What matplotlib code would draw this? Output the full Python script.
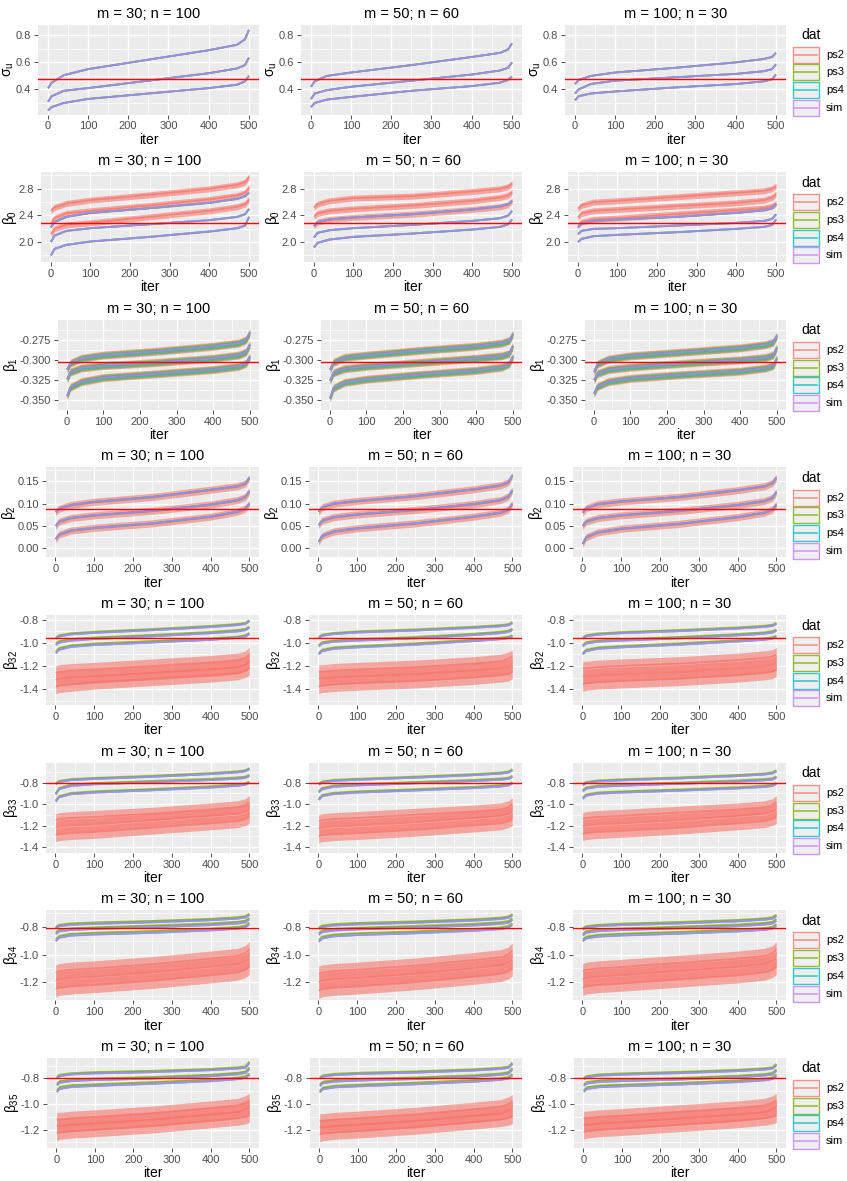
import matplotlib.pyplot as plt
from matplotlib.patches import Rectangle
from matplotlib.lines import Line2D
from matplotlib.ticker import FormatStrFormatter

plt.rcParams['font.family'] = ['Liberation Sans', 'DejaVu Sans']
plt.rcParams['mathtext.fontset'] = 'custom'
plt.rcParams['mathtext.rm'] = 'Liberation Sans'
plt.rcParams['mathtext.it'] = 'Liberation Sans'
plt.rcParams['mathtext.bf'] = 'Liberation Sans:bold'

# iterations at which values were read off the chart (sorted estimates)
iters = [1, 10, 40, 100, 250, 400, 470, 490, 500]
designs = ['m = 30; n = 100', 'm = 50; n = 60', 'm = 100; n = 30']
series = ['ps2', 'ps3', 'ps4', 'sim']
colors = {'ps2': '#F8766D', 'ps3': '#7CAE00', 'ps4': '#00BFC4', 'sim': '#C77CFF'}

# each array: [upper, middle, lower] curve
# ---- sigma_u
sigu_m30 = [[0.41, 0.45, 0.505, 0.55, 0.62, 0.69, 0.73, 0.77, 0.84],
            [0.31, 0.35, 0.39, 0.41, 0.465, 0.52, 0.555, 0.58, 0.635],
            [0.245, 0.27, 0.30, 0.33, 0.37, 0.41, 0.435, 0.46, 0.50]]
sigu_m50 = [[0.42, 0.46, 0.50, 0.525, 0.58, 0.64, 0.67, 0.695, 0.74],
            [0.33, 0.37, 0.395, 0.42, 0.465, 0.51, 0.54, 0.56, 0.60],
            [0.27, 0.30, 0.325, 0.345, 0.39, 0.425, 0.45, 0.47, 0.495]]
sigu_m100 = [[0.44, 0.47, 0.50, 0.525, 0.56, 0.60, 0.625, 0.64, 0.67],
             [0.37, 0.40, 0.44, 0.465, 0.49, 0.515, 0.535, 0.55, 0.585],
             [0.32, 0.35, 0.37, 0.385, 0.415, 0.44, 0.46, 0.475, 0.51]]

# ---- beta_0
b0_m30_ps2 = [[2.47, 2.52, 2.58, 2.63, 2.71, 2.80, 2.86, 2.90, 2.98],
              [2.28, 2.36, 2.43, 2.47, 2.55, 2.64, 2.70, 2.74, 2.82],
              [2.12, 2.20, 2.26, 2.29, 2.38, 2.47, 2.53, 2.57, 2.64]]
b0_m30_sim = [[2.22, 2.30, 2.38, 2.44, 2.51, 2.59, 2.65, 2.69, 2.74],
              [2.00, 2.10, 2.17, 2.21, 2.27, 2.33, 2.38, 2.42, 2.50],
              [1.80, 1.90, 1.96, 2.01, 2.08, 2.16, 2.21, 2.25, 2.38]]
b0_m50_ps2 = [[2.52, 2.57, 2.62, 2.66, 2.69, 2.76, 2.80, 2.83, 2.88],
              [2.38, 2.43, 2.47, 2.50, 2.55, 2.62, 2.67, 2.70, 2.75],
              [2.24, 2.30, 2.34, 2.37, 2.42, 2.49, 2.53, 2.56, 2.62]]
b0_m50_sim = [[2.24, 2.30, 2.34, 2.37, 2.42, 2.49, 2.54, 2.57, 2.62],
              [2.07, 2.14, 2.18, 2.21, 2.26, 2.32, 2.36, 2.40, 2.47],
              [1.92, 1.99, 2.04, 2.08, 2.13, 2.19, 2.23, 2.27, 2.34]]
b0_m100_ps2 = [[2.50, 2.55, 2.60, 2.62, 2.68, 2.74, 2.77, 2.80, 2.84],
               [2.37, 2.43, 2.47, 2.49, 2.54, 2.59, 2.63, 2.67, 2.72],
               [2.25, 2.30, 2.34, 2.36, 2.42, 2.48, 2.51, 2.54, 2.58]]
b0_m100_sim = [[2.22, 2.28, 2.32, 2.34, 2.38, 2.44, 2.48, 2.51, 2.57],
               [2.12, 2.17, 2.20, 2.21, 2.25, 2.29, 2.32, 2.35, 2.42],
               [2.00, 2.05, 2.09, 2.11, 2.15, 2.20, 2.23, 2.26, 2.34]]

# ---- beta_1
b1_m30 = [[-0.312, -0.304, -0.298, -0.294, -0.289, -0.283, -0.279, -0.275, -0.266],
          [-0.324, -0.315, -0.310, -0.307, -0.303, -0.298, -0.294, -0.290, -0.281],
          [-0.345, -0.334, -0.327, -0.322, -0.317, -0.312, -0.308, -0.304, -0.296]]
b1_m50 = [[-0.312, -0.303, -0.297, -0.294, -0.288, -0.283, -0.279, -0.276, -0.268],
          [-0.326, -0.316, -0.311, -0.308, -0.303, -0.298, -0.295, -0.292, -0.283],
          [-0.348, -0.335, -0.328, -0.324, -0.318, -0.313, -0.309, -0.305, -0.296]]
b1_m100 = [[-0.315, -0.305, -0.299, -0.295, -0.290, -0.285, -0.281, -0.278, -0.270],
           [-0.325, -0.317, -0.312, -0.309, -0.304, -0.300, -0.297, -0.294, -0.285],
           [-0.342, -0.333, -0.327, -0.323, -0.318, -0.314, -0.310, -0.307, -0.298]]

# ---- beta_2
b2_m30 = [[0.081, 0.089, 0.097, 0.104, 0.115, 0.131, 0.139, 0.145, 0.158],
          [0.050, 0.060, 0.068, 0.074, 0.084, 0.098, 0.108, 0.115, 0.128],
          [0.021, 0.031, 0.040, 0.046, 0.056, 0.071, 0.082, 0.089, 0.100]]
b2_m50 = [[0.082, 0.092, 0.100, 0.106, 0.117, 0.132, 0.141, 0.148, 0.163],
          [0.052, 0.062, 0.070, 0.076, 0.086, 0.099, 0.108, 0.116, 0.130],
          [0.015, 0.028, 0.038, 0.045, 0.056, 0.071, 0.080, 0.087, 0.100]]
b2_m100 = [[0.080, 0.090, 0.099, 0.105, 0.115, 0.130, 0.139, 0.146, 0.158],
           [0.050, 0.060, 0.068, 0.074, 0.084, 0.097, 0.106, 0.113, 0.126],
           [0.010, 0.025, 0.036, 0.044, 0.055, 0.070, 0.080, 0.087, 0.098]]

# ---- beta_32
b32_m30_ps2 = [[-1.26, -1.25, -1.24, -1.23, -1.20, -1.17, -1.15, -1.13, -1.10],
               [-1.32, -1.31, -1.30, -1.29, -1.26, -1.23, -1.21, -1.19, -1.16],
               [-1.38, -1.37, -1.36, -1.34, -1.31, -1.28, -1.26, -1.24, -1.22]]
b32_m30_ps3 = [[-0.955, -0.935, -0.918, -0.905, -0.882, -0.855, -0.838, -0.828, -0.805],
               [-1.005, -0.985, -0.968, -0.955, -0.932, -0.907, -0.890, -0.880, -0.860],
               [-1.075, -1.045, -1.022, -1.007, -0.985, -0.963, -0.947, -0.935, -0.915]]
b32_m30_sim = [[-0.965, -0.945, -0.928, -0.915, -0.892, -0.865, -0.848, -0.838, -0.815],
               [-1.020, -1.000, -0.982, -0.968, -0.945, -0.918, -0.902, -0.892, -0.870],
               [-1.090, -1.060, -1.036, -1.020, -0.998, -0.975, -0.958, -0.946, -0.925]]
b32_m50_ps2 = [[-1.25, -1.25, -1.24, -1.23, -1.21, -1.18, -1.16, -1.14, -1.12],
               [-1.31, -1.31, -1.30, -1.29, -1.27, -1.24, -1.22, -1.21, -1.19],
               [-1.38, -1.37, -1.36, -1.35, -1.33, -1.30, -1.28, -1.27, -1.25]]
b32_m50_ps3 = [[-0.950, -0.930, -0.915, -0.902, -0.885, -0.862, -0.848, -0.840, -0.822],
               [-1.020, -0.995, -0.980, -0.970, -0.950, -0.922, -0.905, -0.895, -0.878],
               [-1.090, -1.060, -1.040, -1.028, -1.005, -0.974, -0.957, -0.948, -0.935]]
b32_m50_sim = [[-0.960, -0.940, -0.925, -0.912, -0.895, -0.872, -0.858, -0.850, -0.832],
               [-1.032, -1.007, -0.992, -0.982, -0.962, -0.934, -0.917, -0.907, -0.890],
               [-1.100, -1.072, -1.052, -1.040, -1.017, -0.986, -0.969, -0.960, -0.947]]
b32_m100_ps2 = [[-1.22, -1.22, -1.21, -1.20, -1.18, -1.15, -1.13, -1.12, -1.10],
                [-1.29, -1.29, -1.28, -1.27, -1.25, -1.22, -1.20, -1.19, -1.17],
                [-1.36, -1.35, -1.34, -1.33, -1.31, -1.28, -1.26, -1.25, -1.23]]
b32_m100_ps3 = [[-0.955, -0.935, -0.920, -0.908, -0.890, -0.868, -0.853, -0.845, -0.828],
                [-1.020, -0.995, -0.980, -0.970, -0.950, -0.925, -0.910, -0.900, -0.885],
                [-1.090, -1.060, -1.040, -1.028, -1.005, -0.978, -0.962, -0.953, -0.938]]
b32_m100_sim = [[-0.965, -0.945, -0.930, -0.918, -0.900, -0.878, -0.863, -0.855, -0.838],
                [-1.032, -1.007, -0.992, -0.982, -0.962, -0.937, -0.922, -0.912, -0.897],
                [-1.100, -1.072, -1.052, -1.040, -1.017, -0.990, -0.974, -0.965, -0.950]]

# ---- beta_33
b33_m30_ps2 = [[-1.15, -1.14, -1.13, -1.12, -1.09, -1.05, -1.03, -1.01, -0.98],
               [-1.22, -1.21, -1.20, -1.19, -1.15, -1.11, -1.09, -1.07, -1.05],
               [-1.29, -1.28, -1.27, -1.26, -1.22, -1.18, -1.16, -1.14, -1.12]]
b33_m30_ps3 = [[-0.805, -0.785, -0.768, -0.757, -0.737, -0.712, -0.695, -0.685, -0.665],
               [-0.900, -0.850, -0.820, -0.805, -0.785, -0.765, -0.752, -0.745, -0.727],
               [-0.965, -0.925, -0.897, -0.882, -0.860, -0.835, -0.818, -0.808, -0.790]]
b33_m30_sim = [[-0.815, -0.795, -0.778, -0.767, -0.747, -0.722, -0.705, -0.695, -0.675],
               [-0.912, -0.862, -0.832, -0.817, -0.797, -0.777, -0.764, -0.757, -0.739],
               [-0.977, -0.937, -0.909, -0.894, -0.872, -0.847, -0.830, -0.820, -0.802]]
b33_m50_ps2 = [[-1.16, -1.15, -1.14, -1.13, -1.10, -1.07, -1.05, -1.03, -1.00],
               [-1.23, -1.22, -1.21, -1.20, -1.17, -1.13, -1.11, -1.09, -1.07],
               [-1.30, -1.29, -1.28, -1.27, -1.24, -1.20, -1.18, -1.16, -1.14]]
b33_m50_ps3 = [[-0.810, -0.790, -0.775, -0.765, -0.745, -0.722, -0.707, -0.697, -0.675],
               [-0.880, -0.850, -0.828, -0.815, -0.795, -0.775, -0.762, -0.755, -0.737],
               [-0.950, -0.915, -0.895, -0.882, -0.862, -0.840, -0.825, -0.815, -0.797]]
b33_m50_sim = [[-0.820, -0.800, -0.785, -0.775, -0.755, -0.732, -0.717, -0.707, -0.687],
               [-0.892, -0.862, -0.840, -0.827, -0.807, -0.787, -0.774, -0.767, -0.749],
               [-0.962, -0.927, -0.907, -0.894, -0.874, -0.852, -0.837, -0.827, -0.809]]
b33_m100_ps2 = [[-1.14, -1.13, -1.12, -1.11, -1.08, -1.05, -1.03, -1.01, -0.98],
                [-1.21, -1.20, -1.19, -1.18, -1.15, -1.11, -1.09, -1.07, -1.05],
                [-1.28, -1.27, -1.26, -1.25, -1.22, -1.18, -1.16, -1.14, -1.12]]
b33_m100_ps3 = [[-0.815, -0.795, -0.780, -0.770, -0.752, -0.730, -0.715, -0.705, -0.685],
                [-0.870, -0.845, -0.828, -0.818, -0.800, -0.780, -0.767, -0.760, -0.742],
                [-0.940, -0.910, -0.892, -0.882, -0.864, -0.843, -0.829, -0.820, -0.802]]
b33_m100_sim = [[-0.825, -0.805, -0.790, -0.780, -0.762, -0.740, -0.725, -0.715, -0.697],
                [-0.882, -0.857, -0.840, -0.830, -0.812, -0.792, -0.779, -0.772, -0.754],
                [-0.952, -0.922, -0.904, -0.894, -0.876, -0.855, -0.841, -0.832, -0.814]]

# ---- beta_34
b34_m30_ps2 = [[-1.13, -1.12, -1.11, -1.10, -1.07, -1.03, -1.01, -0.99, -0.96],
               [-1.19, -1.18, -1.17, -1.16, -1.13, -1.09, -1.07, -1.05, -1.03],
               [-1.25, -1.24, -1.23, -1.22, -1.19, -1.15, -1.13, -1.11, -1.09]]
b34_m30_ps3 = [[-0.800, -0.785, -0.775, -0.768, -0.757, -0.742, -0.730, -0.722, -0.705],
               [-0.840, -0.820, -0.810, -0.803, -0.790, -0.775, -0.763, -0.755, -0.735],
               [-0.890, -0.865, -0.850, -0.842, -0.830, -0.812, -0.800, -0.790, -0.770]]
b34_m30_sim = [[-0.810, -0.795, -0.785, -0.778, -0.767, -0.752, -0.740, -0.732, -0.715],
               [-0.852, -0.832, -0.822, -0.815, -0.802, -0.787, -0.775, -0.767, -0.747],
               [-0.903, -0.878, -0.863, -0.855, -0.843, -0.825, -0.813, -0.803, -0.783]]
b34_m50_ps2 = [[-1.14, -1.13, -1.12, -1.11, -1.08, -1.04, -1.02, -1.00, -0.97],
               [-1.20, -1.19, -1.18, -1.17, -1.14, -1.10, -1.08, -1.06, -1.04],
               [-1.26, -1.25, -1.24, -1.23, -1.20, -1.16, -1.14, -1.12, -1.10]]
b34_m50_ps3 = [[-0.805, -0.790, -0.780, -0.772, -0.760, -0.745, -0.733, -0.725, -0.708],
               [-0.845, -0.825, -0.814, -0.806, -0.793, -0.778, -0.766, -0.758, -0.738],
               [-0.895, -0.870, -0.855, -0.846, -0.833, -0.815, -0.803, -0.793, -0.773]]
b34_m50_sim = [[-0.815, -0.800, -0.790, -0.782, -0.770, -0.755, -0.743, -0.735, -0.718],
               [-0.857, -0.837, -0.826, -0.818, -0.805, -0.790, -0.778, -0.770, -0.750],
               [-0.908, -0.883, -0.868, -0.859, -0.846, -0.828, -0.816, -0.806, -0.786]]
b34_m100_ps2 = [[-1.12, -1.11, -1.10, -1.09, -1.06, -1.03, -1.01, -0.99, -0.96],
                [-1.18, -1.17, -1.16, -1.15, -1.12, -1.09, -1.07, -1.05, -1.03],
                [-1.24, -1.23, -1.22, -1.21, -1.18, -1.15, -1.13, -1.11, -1.09]]
b34_m100_ps3 = [[-0.810, -0.795, -0.785, -0.777, -0.765, -0.750, -0.738, -0.730, -0.712],
                [-0.850, -0.830, -0.819, -0.811, -0.798, -0.783, -0.771, -0.763, -0.743],
                [-0.890, -0.870, -0.857, -0.849, -0.836, -0.820, -0.808, -0.799, -0.780]]
b34_m100_sim = [[-0.820, -0.805, -0.795, -0.787, -0.775, -0.760, -0.748, -0.740, -0.722],
                [-0.862, -0.842, -0.831, -0.823, -0.810, -0.795, -0.783, -0.775, -0.755],
                [-0.903, -0.883, -0.870, -0.862, -0.849, -0.833, -0.821, -0.812, -0.793]]

# ---- beta_35
b35_m30_ps2 = [[-1.12, -1.12, -1.11, -1.10, -1.07, -1.03, -1.01, -0.99, -0.97],
               [-1.17, -1.17, -1.16, -1.15, -1.12, -1.08, -1.06, -1.04, -1.03],
               [-1.23, -1.22, -1.21, -1.20, -1.17, -1.13, -1.11, -1.10, -1.09]]
b35_m30_ps3 = [[-0.785, -0.770, -0.758, -0.750, -0.740, -0.725, -0.712, -0.705, -0.668],
               [-0.840, -0.820, -0.808, -0.800, -0.788, -0.770, -0.755, -0.745, -0.712],
               [-0.890, -0.865, -0.852, -0.845, -0.828, -0.808, -0.792, -0.782, -0.760]]
b35_m30_sim = [[-0.795, -0.780, -0.768, -0.760, -0.750, -0.735, -0.722, -0.715, -0.680],
               [-0.852, -0.832, -0.820, -0.812, -0.800, -0.782, -0.767, -0.757, -0.726],
               [-0.905, -0.880, -0.866, -0.858, -0.841, -0.821, -0.805, -0.795, -0.773]]
b35_m50_ps2 = [[-1.13, -1.13, -1.12, -1.11, -1.08, -1.04, -1.02, -1.00, -0.98],
               [-1.18, -1.18, -1.17, -1.16, -1.13, -1.09, -1.07, -1.05, -1.04],
               [-1.24, -1.23, -1.22, -1.21, -1.18, -1.14, -1.12, -1.11, -1.10]]
b35_m50_ps3 = [[-0.790, -0.775, -0.763, -0.755, -0.744, -0.728, -0.715, -0.707, -0.675],
               [-0.845, -0.825, -0.812, -0.804, -0.792, -0.774, -0.760, -0.750, -0.718],
               [-0.895, -0.870, -0.856, -0.848, -0.832, -0.812, -0.797, -0.787, -0.765]]
b35_m50_sim = [[-0.800, -0.785, -0.773, -0.765, -0.754, -0.738, -0.725, -0.717, -0.687],
               [-0.857, -0.837, -0.824, -0.816, -0.804, -0.786, -0.772, -0.762, -0.731],
               [-0.908, -0.883, -0.869, -0.861, -0.845, -0.825, -0.810, -0.800, -0.778]]
b35_m100_ps2 = [[-1.11, -1.11, -1.10, -1.09, -1.06, -1.03, -1.01, -0.99, -0.97],
                [-1.16, -1.16, -1.15, -1.14, -1.11, -1.08, -1.06, -1.04, -1.03],
                [-1.22, -1.21, -1.20, -1.19, -1.16, -1.13, -1.11, -1.10, -1.09]]
b35_m100_ps3 = [[-0.795, -0.780, -0.768, -0.760, -0.748, -0.732, -0.720, -0.712, -0.685],
                [-0.845, -0.827, -0.815, -0.808, -0.796, -0.778, -0.765, -0.756, -0.728],
                [-0.890, -0.868, -0.855, -0.848, -0.834, -0.815, -0.801, -0.791, -0.768]]
b35_m100_sim = [[-0.805, -0.790, -0.778, -0.770, -0.758, -0.742, -0.730, -0.722, -0.697],
                [-0.857, -0.839, -0.827, -0.820, -0.808, -0.790, -0.777, -0.768, -0.741],
                [-0.903, -0.881, -0.868, -0.861, -0.847, -0.828, -0.814, -0.804, -0.781]]

# half-width of the iteration-to-iteration jitter seen around each series, per row
jitter_ps2 = [0.0, 0.045, 0.005, 0.008, 0.06, 0.06, 0.055, 0.055]
jitter_ps3 = [0.0, 0.008, 0.004, 0.002, 0.007, 0.007, 0.006, 0.006]
jitter_ps4 = [0.0, 0.0, 0.003, 0.0, 0.0, 0.0, 0.0, 0.0]
jitter_sim = [0.0, 0.010, 0.0, 0.002, 0.004, 0.004, 0.004, 0.004]
jitter = {'ps2': jitter_ps2, 'ps3': jitter_ps3, 'ps4': jitter_ps4, 'sim': jitter_sim}
fill_alpha = {'ps2': 0.6, 'ps3': 0.5, 'ps4': 0.5, 'sim': 0.5}

# per-row settings: label, true value, y limits, y ticks, tick format
ylabels = [r'$\sigma_u$', r'$\beta_0$', r'$\beta_1$', r'$\beta_2$',
           r'$\beta_{32}$', r'$\beta_{33}$', r'$\beta_{34}$', r'$\beta_{35}$']
truths = [0.48, 2.28, -0.3025, 0.088, -0.955, -0.806, -0.81, -0.80]
ylims = [(0.215, 0.88), (1.70, 3.05), (-0.362, -0.250), (-0.020, 0.181),
         (-1.537, -0.761), (-1.452, -0.615), (-1.33, -0.68), (-1.342, -0.639)]
yticks = [[0.4, 0.6, 0.8], [2.0, 2.4, 2.8], [-0.350, -0.325, -0.300, -0.275],
          [0.00, 0.05, 0.10, 0.15], [-1.4, -1.2, -1.0, -0.8],
          [-1.4, -1.2, -1.0, -0.8], [-1.2, -1.0, -0.8], [-1.2, -1.0, -0.8]]
yfmt = ['%.1f', '%.1f', '%.3f', '%.2f', '%.1f', '%.1f', '%.1f', '%.1f']

# which curves each series draws, per row and design
panels = [
    [{s: sigu_m30 for s in series}, {s: sigu_m50 for s in series}, {s: sigu_m100 for s in series}],
    [{'ps2': b0_m30_ps2, 'ps3': b0_m30_sim, 'ps4': b0_m30_sim, 'sim': b0_m30_sim},
     {'ps2': b0_m50_ps2, 'ps3': b0_m50_sim, 'ps4': b0_m50_sim, 'sim': b0_m50_sim},
     {'ps2': b0_m100_ps2, 'ps3': b0_m100_sim, 'ps4': b0_m100_sim, 'sim': b0_m100_sim}],
    [{s: b1_m30 for s in series}, {s: b1_m50 for s in series}, {s: b1_m100 for s in series}],
    [{s: b2_m30 for s in series}, {s: b2_m50 for s in series}, {s: b2_m100 for s in series}],
    [{'ps2': b32_m30_ps2, 'ps3': b32_m30_ps3, 'ps4': b32_m30_sim, 'sim': b32_m30_sim},
     {'ps2': b32_m50_ps2, 'ps3': b32_m50_ps3, 'ps4': b32_m50_sim, 'sim': b32_m50_sim},
     {'ps2': b32_m100_ps2, 'ps3': b32_m100_ps3, 'ps4': b32_m100_sim, 'sim': b32_m100_sim}],
    [{'ps2': b33_m30_ps2, 'ps3': b33_m30_ps3, 'ps4': b33_m30_sim, 'sim': b33_m30_sim},
     {'ps2': b33_m50_ps2, 'ps3': b33_m50_ps3, 'ps4': b33_m50_sim, 'sim': b33_m50_sim},
     {'ps2': b33_m100_ps2, 'ps3': b33_m100_ps3, 'ps4': b33_m100_sim, 'sim': b33_m100_sim}],
    [{'ps2': b34_m30_ps2, 'ps3': b34_m30_ps3, 'ps4': b34_m30_sim, 'sim': b34_m30_sim},
     {'ps2': b34_m50_ps2, 'ps3': b34_m50_ps3, 'ps4': b34_m50_sim, 'sim': b34_m50_sim},
     {'ps2': b34_m100_ps2, 'ps3': b34_m100_ps3, 'ps4': b34_m100_sim, 'sim': b34_m100_sim}],
    [{'ps2': b35_m30_ps2, 'ps3': b35_m30_ps3, 'ps4': b35_m30_sim, 'sim': b35_m30_sim},
     {'ps2': b35_m50_ps2, 'ps3': b35_m50_ps3, 'ps4': b35_m50_sim, 'sim': b35_m50_sim},
     {'ps2': b35_m100_ps2, 'ps3': b35_m100_ps3, 'ps4': b35_m100_sim, 'sim': b35_m100_sim}],
]

W, H = 847, 1181
row_h = H / 8
panel_right = [259, 522, 786]
panel_w = [221, 218, 201, 213, 213, 213, 213, 212]


def fig_rect(x, y, w, h):
    # pixel box (top-left origin) -> figure fraction
    return [x / W, 1 - (y + h) / H, w / W, h / H]


fig = plt.figure(figsize=(W / 100, H / 100), dpi=100)

for r in range(8):
    top = r * row_h
    for c in range(3):
        ax = fig.add_axes(fig_rect(panel_right[c] - panel_w[r], top + 24.5, panel_w[r], 90))
        ax.set_facecolor('#EBEBEB')
        for sp in ax.spines.values():
            sp.set_visible(False)
        data = panels[r][c]
        for s in series:
            hw = jitter[s][r]
            for curve in data[s]:
                if hw > 0:
                    ax.fill_between(iters, [v - hw for v in curve], [v + hw for v in curve],
                                    color=colors[s], alpha=fill_alpha[s], lw=0)
                ax.plot(iters, curve, color=colors[s], lw=1.3, alpha=0.75, solid_capstyle='butt')
        ax.axhline(truths[r], color='red', lw=1.0, zorder=5)
        ax.set_xlim(1 - 24.95, 500 + 24.95)
        ax.set_ylim(*ylims[r])
        ax.set_xticks([0, 100, 200, 300, 400, 500])
        ax.set_xticks([50, 150, 250, 350, 450], minor=True)
        yt = yticks[r]
        step = yt[1] - yt[0]
        ax.set_yticks(yt)
        minors = [yt[0] - step / 2] + [v + step / 2 for v in yt]
        ax.set_yticks([m for m in minors if ylims[r][0] < m < ylims[r][1]], minor=True)
        ax.yaxis.set_major_formatter(FormatStrFormatter(yfmt[r]))
        ax.grid(which='major', color='white', lw=1.0)
        ax.grid(which='minor', color='white', lw=0.5)
        ax.set_axisbelow(True)
        ax.tick_params(which='major', length=3, width=0.6, color='#333333',
                       labelsize=8, labelcolor='#4D4D4D', pad=2)
        ax.tick_params(which='minor', length=0)
        ax.set_xlabel('iter', fontsize=10, labelpad=1)
        ax.set_ylabel(ylabels[r], fontsize=10, labelpad=0)
        ax.set_title(designs[c], fontsize=10.5, pad=5)

    # legend for the row
    fig.text(801 / W, 1 - (top + 35) / H, 'dat', fontsize=10, va='center', ha='left')
    for k, s in enumerate(series):
        ky = top + 46.7 + k * 17.7
        fig.add_artist(Rectangle((793 / W, 1 - (ky + 16) / H), 26 / W, 16 / H,
                                 transform=fig.transFigure, facecolor='#EBEBEB',
                                 edgecolor=colors[s], lw=1.0, alpha=0.8))
        fig.add_artist(Line2D([795 / W, 817 / W], [1 - (ky + 8) / H] * 2,
                              transform=fig.transFigure, color=colors[s], lw=1.3, alpha=0.7))
        fig.text(826 / W, 1 - (ky + 8) / H, s, fontsize=8, va='center', ha='left')

fig.savefig('out.png', dpi=100)
